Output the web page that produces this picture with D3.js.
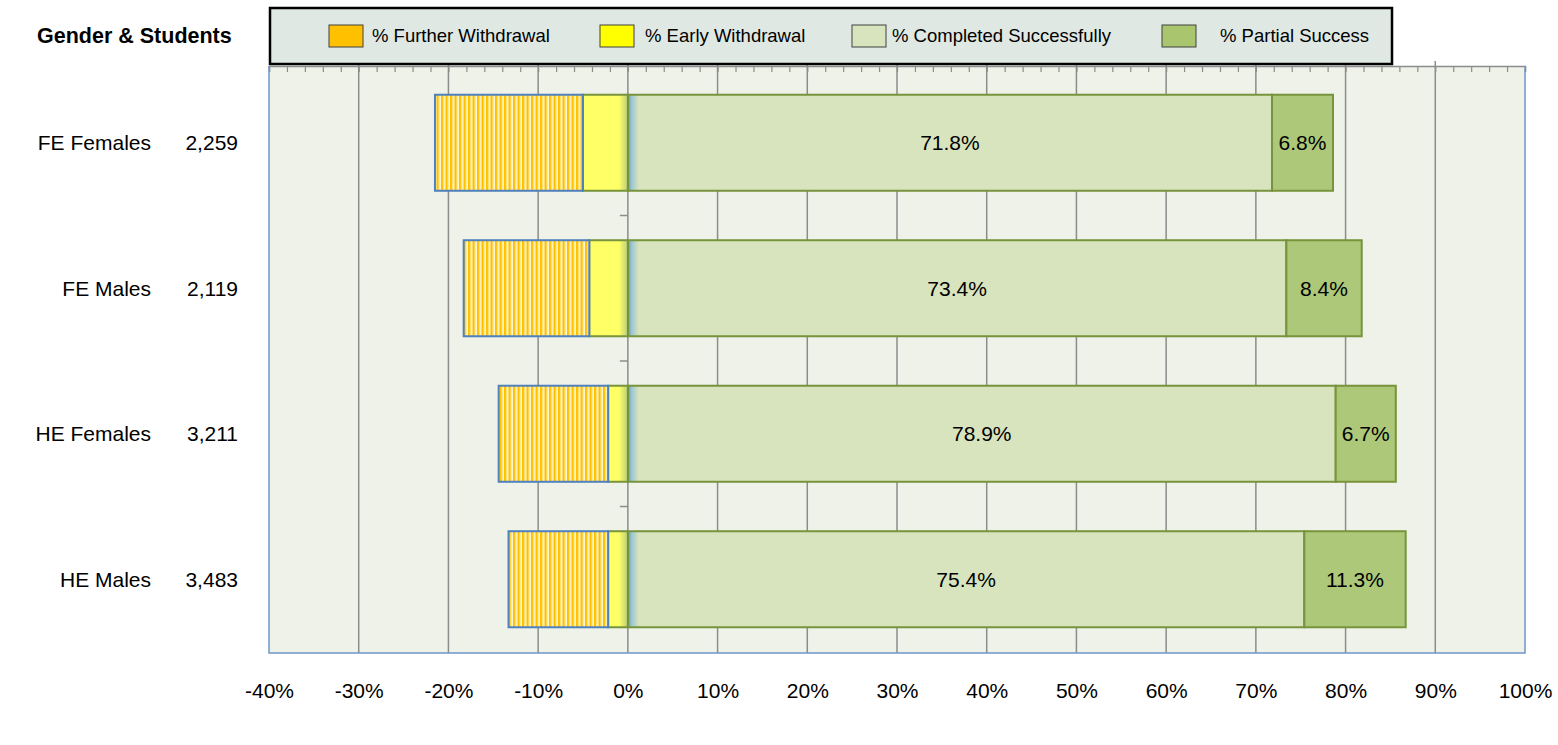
<!DOCTYPE html>
<html>
<head>
<meta charset="utf-8">
<script src="https://cdn.jsdelivr.net/npm/d3@7"></script>
<style>
  body { margin: 0; background: #fff; }
  svg { display: block; font-family: "Liberation Sans", Arial, sans-serif; }
</style>
</head>
<body>
<svg id="chart"></svg>
<script>
// Data
const categories = ["FE Females", "FE Males", "HE Females", "HE Males"];
const students = [2259, 2119, 3211, 3483];
const furtherWithdrawal = [16.5, 14.0, 12.2, 11.1];
const earlyWithdrawal = [5.0, 4.3, 2.2, 2.2];
const completed = [71.8, 73.4, 78.9, 75.4];
const partial = [6.8, 8.4, 6.7, 11.3];
const xTicks = [-40, -30, -20, -10, 0, 10, 20, 30, 40, 50, 60, 70, 80, 90, 100];
const legendLabels = ["% Further Withdrawal", "% Early Withdrawal", "% Completed Successfully", "% Partial Success"];

// Chart dimensions
const width = 1558;
const height = 745;
const plotLeft = 269;
const plotRight = 1525;
const plotTop = 66;
const plotBottom = 653;

const x = d3.scaleLinear([-40, 100], [plotLeft, plotRight]);
const y = d3.scaleBand(categories, [70, 652]).paddingInner(0.34).paddingOuter(0.17);

const rows = categories.map((c, i) => ({
    cat: c,
    n: students[i],
    further: furtherWithdrawal[i],
    early: earlyWithdrawal[i],
    done: completed[i],
    part: partial[i]
}));

const svg = d3.select("#chart")
    .attr("width", width)
    .attr("height", height)
    .attr("viewBox", [0, 0, width, height]);

// Patterns and gradients
const defs = svg.append("defs");
const stripes = defs.append("pattern")
    .attr("id", "stripes")
    .attr("patternUnits", "userSpaceOnUse")
    .attr("width", 4.5)
    .attr("height", 10);
stripes.append("rect").attr("width", 4.5).attr("height", 10).attr("fill", "#fff6d0");
stripes.append("rect").attr("x", 0).attr("width", 2).attr("height", 10).attr("fill", "#ffc000");
stripes.append("rect").attr("x", 2).attr("width", 1).attr("height", 10).attr("fill", "#ffd84f");

const gDone = defs.append("linearGradient")
    .attr("id", "doneGrad")
    .attr("gradientUnits", "userSpaceOnUse")
    .attr("x1", x(0)).attr("x2", x(0) + 11).attr("y1", 0).attr("y2", 0);
gDone.append("stop").attr("offset", 0).attr("stop-color", "#4f9fc4");
gDone.append("stop").attr("offset", 0.35).attr("stop-color", "#9fc6cf");
gDone.append("stop").attr("offset", 1).attr("stop-color", "#d7e4bd");

const gEarly = defs.append("linearGradient")
    .attr("id", "earlyGrad")
    .attr("gradientUnits", "userSpaceOnUse")
    .attr("x1", x(0) - 9).attr("x2", x(0)).attr("y1", 0).attr("y2", 0);
gEarly.append("stop").attr("offset", 0).attr("stop-color", "#ffff66");
gEarly.append("stop").attr("offset", 1).attr("stop-color", "#b9cf7e");

// Plot background
svg.append("rect")
    .attr("x", plotLeft)
    .attr("y", plotTop)
    .attr("width", plotRight - plotLeft)
    .attr("height", plotBottom - plotTop)
    .attr("fill", "#eff2e9");

// Vertical grid lines
svg.append("g")
    .selectAll("line")
    .data(xTicks.slice(1, -1))
    .join("line")
    .attr("x1", d => x(d))
    .attr("x2", d => x(d))
    .attr("y1", 61)
    .attr("y2", plotBottom)
    .attr("stroke", "#8c8c8c")
    .attr("stroke-width", 1.5);

// Top axis with minor ticks
svg.append("g")
    .attr("transform", `translate(0,${plotTop})`)
    .call(d3.axisBottom(x).tickValues(d3.range(-40, 100.1, 2)).tickSize(6).tickFormat(""))
    .call(g => g.select(".domain").attr("stroke", "#8c8c8c").attr("stroke-width", 1.5))
    .call(g => g.selectAll(".tick line").attr("stroke", "#8c8c8c").attr("stroke-width", 1.2));

// Plot border (left, right, bottom)
svg.append("path")
    .attr("d", `M${plotLeft},${plotTop}V${plotBottom}H${plotRight}V${plotTop}`)
    .attr("fill", "none")
    .attr("stroke", "#6f96c8")
    .attr("stroke-width", 1.5);

// Category ticks on the zero line
svg.append("g")
    .selectAll("line")
    .data(categories.slice(1))
    .join("line")
    .attr("x1", x(0) - 8)
    .attr("x2", x(0))
    .attr("y1", d => y(d) - y.step() * y.paddingInner() / 2)
    .attr("y2", d => y(d) - y.step() * y.paddingInner() / 2)
    .attr("stroke", "#8c8c8c")
    .attr("stroke-width", 1.5);

// Bars
const bars = svg.append("g");

bars.selectAll(".done")
    .data(rows)
    .join("rect")
    .attr("x", x(0))
    .attr("y", d => y(d.cat))
    .attr("width", d => x(d.done) - x(0))
    .attr("height", y.bandwidth())
    .attr("fill", "url(#doneGrad)")
    .attr("stroke", "#77933c")
    .attr("stroke-width", 2);

bars.selectAll(".part")
    .data(rows)
    .join("rect")
    .attr("x", d => x(d.done))
    .attr("y", d => y(d.cat))
    .attr("width", d => x(d.done + d.part) - x(d.done))
    .attr("height", y.bandwidth())
    .attr("fill", "#adc878")
    .attr("stroke", "#77933c")
    .attr("stroke-width", 2);

bars.selectAll(".early")
    .data(rows)
    .join("rect")
    .attr("x", d => x(-d.early))
    .attr("y", d => y(d.cat))
    .attr("width", d => x(0) - x(-d.early))
    .attr("height", y.bandwidth())
    .attr("fill", "url(#earlyGrad)")
    .attr("stroke", "#77933c")
    .attr("stroke-width", 2);

bars.selectAll(".further")
    .data(rows)
    .join("rect")
    .attr("x", d => x(-d.early - d.further))
    .attr("y", d => y(d.cat))
    .attr("width", d => x(-d.early) - x(-d.early - d.further))
    .attr("height", y.bandwidth())
    .attr("fill", "url(#stripes)")
    .attr("stroke", "#4f81bd")
    .attr("stroke-width", 2);

// Value labels
const labelStyle = sel => sel
    .attr("text-anchor", "middle")
    .attr("dy", "0.35em")
    .attr("font-size", 21)
    .attr("fill", "#000");

bars.selectAll(".lblDone")
    .data(rows)
    .join("text")
    .attr("x", d => x(d.done / 2))
    .attr("y", d => y(d.cat) + y.bandwidth() / 2)
    .call(labelStyle)
    .text(d => d.done.toFixed(1) + "%");

bars.selectAll(".lblPart")
    .data(rows)
    .join("text")
    .attr("x", d => x(d.done + d.part / 2))
    .attr("y", d => y(d.cat) + y.bandwidth() / 2)
    .call(labelStyle)
    .text(d => d.part.toFixed(1) + "%");

// Category names and student counts
svg.append("g")
    .selectAll("text")
    .data(rows)
    .join("text")
    .attr("x", 151)
    .attr("y", d => y(d.cat) + y.bandwidth() / 2)
    .attr("dy", "0.35em")
    .attr("text-anchor", "end")
    .attr("font-size", 21)
    .text(d => d.cat);

svg.append("g")
    .selectAll("text")
    .data(rows)
    .join("text")
    .attr("x", 238)
    .attr("y", d => y(d.cat) + y.bandwidth() / 2)
    .attr("dy", "0.35em")
    .attr("text-anchor", "end")
    .attr("font-size", 21)
    .text(d => d3.format(",")(d.n));

// Bottom tick labels
svg.append("g")
    .attr("transform", `translate(0,${plotBottom})`)
    .call(d3.axisBottom(x).tickValues(xTicks).tickSize(0).tickPadding(30).tickFormat(d => d + "%"))
    .call(g => g.select(".domain").remove())
    .call(g => g.selectAll("text")
        .attr("font-size", 21)
        .attr("font-family", "Liberation Sans, Arial, sans-serif")
        .attr("fill", "#000"));

// Title
svg.append("text")
    .attr("x", 37)
    .attr("y", 43)
    .attr("font-size", 21.5)
    .attr("font-weight", "bold")
    .text("Gender & Students");

// Legend
const legend = svg.append("g");
legend.append("rect")
    .attr("x", 270)
    .attr("y", 8)
    .attr("width", 1122)
    .attr("height", 56)
    .attr("fill", "#dfe8e3")
    .attr("stroke", "#000")
    .attr("stroke-width", 2.5);

const legendFills = ["#ffc000", "#ffff00", "#d7e4bd", "#a9c56e"];
const swatchX = [329, 600, 852, 1162];
const textX = [372, 645, 892, 1220];

const items = legend.selectAll(".item")
    .data(legendLabels)
    .join("g");
items.append("rect")
    .attr("x", (d, i) => swatchX[i])
    .attr("y", 25)
    .attr("width", 34)
    .attr("height", 22)
    .attr("fill", (d, i) => legendFills[i])
    .attr("stroke", "#404040")
    .attr("stroke-width", 1);
items.append("text")
    .attr("x", (d, i) => textX[i])
    .attr("y", 42)
    .attr("font-size", 18.5)
    .text(d => d);
</script>
</body>
</html>
